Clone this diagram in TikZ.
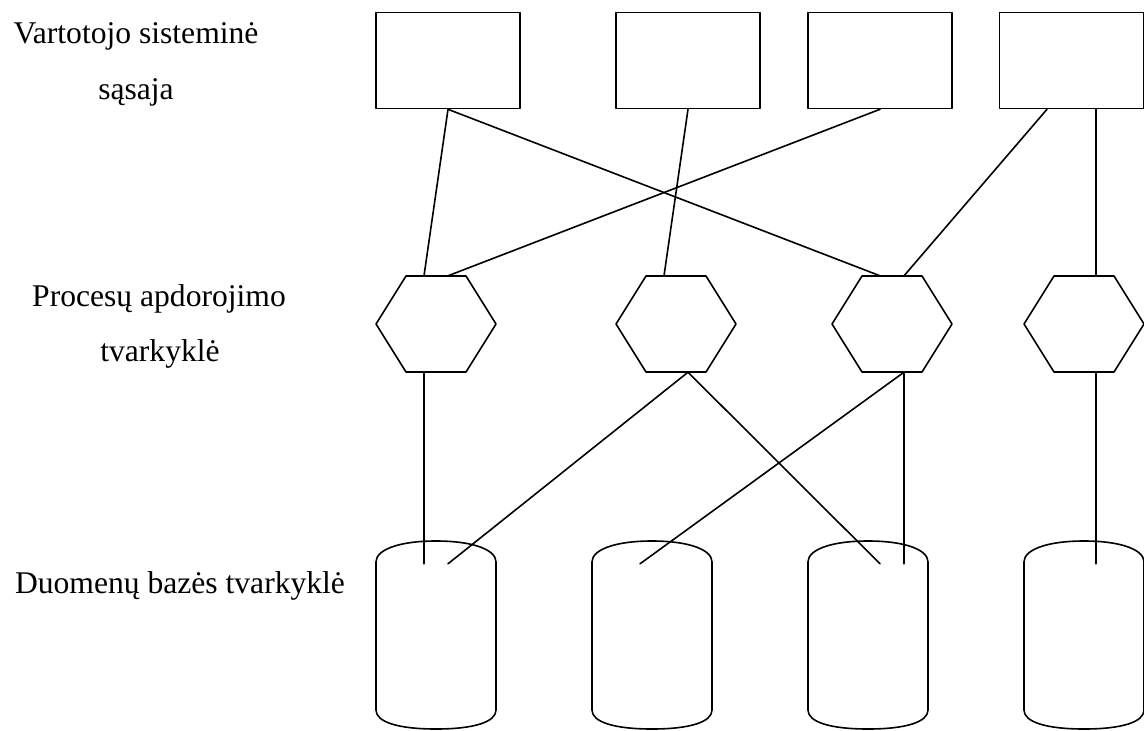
\documentclass[tikz,border=0pt]{standalone}
\usepackage{fontspec}
\setmainfont{Liberation Serif}
\usetikzlibrary{calc}

\tikzset{
  ln/.style={line width=1.6pt, line cap=round, line join=round},
  boxnode/.style={draw, ln, minimum width=144pt, minimum height=96pt, inner sep=0pt},
  hexnode/.style={minimum width=120pt, minimum height=96pt, inner sep=0pt},
  cylnode/.style={minimum width=120pt, minimum height=188pt, inner sep=0pt},
  lbl/.style={anchor=base, inner sep=0pt, font=\fontsize{31.6}{40}\selectfont},
  conn/.style={ln}
}

\begin{document}
\begin{tikzpicture}[x=1pt, y=-1pt]
  \useasboundingbox (0,0) rectangle (1144,731);

  % level labels
  \node[lbl] (t1a) at (136,43)  {Vartotojo sisteminė};
  \node[lbl] (t1b) at (136,99)  {sąsaja};
  \node[lbl] (t2a) at (159,306.5) {Procesų apdorojimo};
  \node[lbl] (t2b) at (160,361.5) {tvarkyklė};
  \node[lbl] (t3)  at (180,593) {Duomenų bazės tvarkyklė};

  % user interface boxes
  \node[boxnode] (r1) at (448,60.5)    {};
  \node[boxnode] (r2) at (688,60.5)    {};
  \node[boxnode] (r3) at (880,60.5)    {};
  \node[boxnode] (r4) at (1071.5,60.5) {};

  % process managers (hexagons)
  \node[hexnode] (h1) at (436,324)  {};
  \node[hexnode] (h2) at (676,324)  {};
  \node[hexnode] (h3) at (892,324)  {};
  \node[hexnode] (h4) at (1084,324) {};
  \foreach \h in {h1,h2,h3,h4} {
    \begin{scope}[shift={(\h.center)}]
      \draw[ln] (-60,0) -- (-30,-48) -- (30,-48) -- (60,0) -- (30,48) -- (-30,48) -- cycle;
    \end{scope}
  }

  % database managers (cylinders)
  \node[cylnode] (c1) at (436,635)  {};
  \node[cylnode] (c2) at (652,635)  {};
  \node[cylnode] (c3) at (868,635)  {};
  \node[cylnode] (c4) at (1084,635) {};
  \foreach \c in {c1,c2,c3,c4} {
    \begin{scope}[shift={(\c.center)}]
      \draw[ln] (-60,-73) -- (-60,75)
        .. controls (-60,87) and (-38,94) .. (0,94)
        .. controls (38,94) and (60,87) .. (60,75)
        -- (60,-73)
        .. controls (60,-85) and (38,-94) .. (0,-94)
        .. controls (-38,-94) and (-60,-85) .. cycle;
    \end{scope}
  }

  % interface -> process manager links
  \draw[conn] (r1.south) -- ([xshift=-12pt]h1.north);
  \draw[conn] (r1.south) -- ([xshift=-12pt]h3.north);
  \draw[conn] (r2.south) -- ([xshift=-12pt]h2.north);
  \draw[conn] (r3.south) -- ([xshift=12pt]h1.north);
  \draw[conn] ([xshift=-24.5pt]r4.south) -- ([xshift=12pt]h3.north);
  \draw[conn] ([xshift=24.5pt]r4.south) -- ([xshift=12pt]h4.north);

  % process manager -> database manager links
  \draw[conn] ([xshift=-12pt]h1.south) -- ([xshift=-12pt,yshift=-23pt]c1.north);
  \draw[conn] ([xshift=12pt]h2.south)  -- ([xshift=12pt,yshift=-23pt]c1.north);
  \draw[conn] ([xshift=12pt]h2.south)  -- ([xshift=12pt,yshift=-23pt]c3.north);
  \draw[conn] ([xshift=12pt]h3.south)  -- ([xshift=-12pt,yshift=-23pt]c2.north);
  \draw[conn] ([xshift=12pt]h3.south)  -- ([xshift=36pt,yshift=-23pt]c3.north);
  \draw[conn] ([xshift=12pt]h4.south)  -- ([xshift=12pt,yshift=-23pt]c4.north);
\end{tikzpicture}
\end{document}
